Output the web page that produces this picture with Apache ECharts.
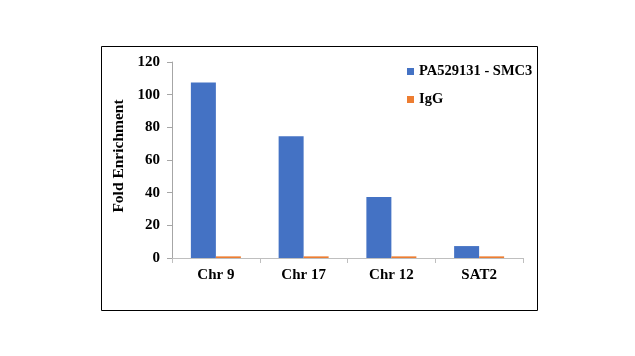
<!DOCTYPE html>
<html><head><meta charset="utf-8">
<script src="https://cdn.jsdelivr.net/npm/echarts@6/dist/echarts.min.js"></script>
<style>html,body{margin:0;padding:0;background:#fff}#c{width:635px;height:356px}</style>
</head><body><div id="c"></div>
<script>
const categories = ['Chr 9', 'Chr 17', 'Chr 12', 'SAT2'];
const smc3Values = [107.5, 74.5, 37.3, 7.3];
const iggValues = [1, 1, 1, 1];
const seriesNames = ['PA529131 - SMC3', 'IgG'];
const yTicks = { min: 0, max: 120, interval: 20 };

const font = 'Liberation Serif';
const chart = echarts.init(document.getElementById('c'));
chart.setOption({
  animation: false,
  backgroundColor: '#fff',
  graphic: [{
    type: 'rect', left: 99, top: 44, shape: { width: 436, height: 264 },
    style: { fill: 'none', stroke: '#000', lineWidth: 1 }
  }],
  legend: {
    orient: 'vertical', left: 402, top: 59, itemWidth: 7, itemHeight: 7, itemGap: 13,
    icon: 'rect',
    textStyle: { fontFamily: font, fontWeight: 'bold', fontSize: 14.5, color: '#000' },
    data: seriesNames
  },
  grid: { left: 172, right: 112, top: 62, bottom: 98, containLabel: false },
  xAxis: {
    type: 'category', data: categories,
    axisLine: { lineStyle: { color: '#bfbfbf' } },
    axisTick: { show: true, length: 5, lineStyle: { color: '#bfbfbf' } },
    axisLabel: { fontFamily: font, fontWeight: 'bold', fontSize: 15, color: '#000', margin: 10 }
  },
  yAxis: {
    type: 'value', min: yTicks.min, max: yTicks.max, interval: yTicks.interval,
    name: 'Fold Enrichment', nameLocation: 'middle', nameGap: 36,
    nameTextStyle: { fontFamily: font, fontWeight: 'bold', fontSize: 15.5, color: '#000', padding: [0, 0, 0, 8] },
    axisLine: { show: true, lineStyle: { color: '#a6a6a6' } },
    axisTick: { show: true, length: 5, lineStyle: { color: '#a6a6a6' } },
    splitLine: { show: false },
    axisLabel: { fontFamily: font, fontWeight: 'bold', fontSize: 15, color: '#000', margin: 12 }
  },
  series: [
    { name: seriesNames[0], type: 'bar', data: smc3Values, barWidth: 25, barGap: '0%',
      itemStyle: { color: '#4472C4' } },
    { name: seriesNames[1], type: 'bar', data: iggValues, barWidth: 25,
      itemStyle: { color: '#ED7D31' } }
  ]
});
</script></body></html>
